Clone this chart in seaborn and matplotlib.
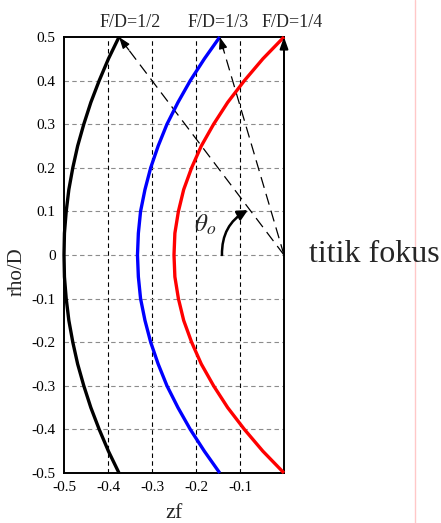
import matplotlib
matplotlib.use('Agg')
import matplotlib.pyplot as plt
from matplotlib.lines import Line2D
import matplotlib.transforms as mtransforms
import seaborn as sns
import pandas as pd

# ---------------- data ----------------
rho = [-0.5, -0.45, -0.4, -0.35, -0.3, -0.25, -0.2, -0.15, -0.1, -0.05, 0.0,
       0.05, 0.1, 0.15, 0.2, 0.25, 0.3, 0.35, 0.4, 0.45, 0.5]
zf_half = [-0.375, -0.399, -0.42, -0.439, -0.455, -0.469, -0.48, -0.489, -0.495, -0.499, -0.5,
           -0.499, -0.495, -0.489, -0.48, -0.469, -0.455, -0.439, -0.42, -0.399, -0.375]
zf_third = [-0.146, -0.181, -0.213, -0.241, -0.266, -0.286, -0.303, -0.316, -0.326, -0.331, -0.333,
            -0.331, -0.326, -0.316, -0.303, -0.286, -0.266, -0.241, -0.213, -0.181, -0.146]
zf_quarter = [0.0, -0.048, -0.09, -0.128, -0.16, -0.188, -0.21, -0.228, -0.24, -0.248, -0.25,
              -0.248, -0.24, -0.228, -0.21, -0.188, -0.16, -0.128, -0.09, -0.048, 0.0]
curve_names = ['F/D=1/2', 'F/D=1/3', 'F/D=1/4']
curve_colors = ['#000000', '#0000ff', '#ff0000']
title_x = [-0.35, -0.149, 0.018]
focus = (0.0, 0.0)
theta_label = r'$\theta_o$'
focus_label = 'titik fokus'
xticks = [-0.5, -0.4, -0.3, -0.2, -0.1]
xtick_labels = ['-0.5', '-0.4', '-0.3', '-0.2', '-0.1']
yticks = [-0.5, -0.4, -0.3, -0.2, -0.1, 0.0, 0.1, 0.2, 0.3, 0.4, 0.5]
ytick_labels = ['-0.5', '-0.4', '-0.3', '-0.2', '-0.1', '0', '0.1', '0.2', '0.3', '0.4', '0.5']

# ---------------- style ----------------
sns.set_style('white')
plt.rcParams['font.family'] = ['Liberation Serif', 'DejaVu Serif']
plt.rcParams['mathtext.fontset'] = 'stix'

fig = plt.figure(figsize=(4.41, 5.23), dpi=100)
ax = fig.add_axes([64 / 441, 1 - 473 / 523, 220 / 441, 436 / 523])

df = pd.DataFrame({
    'zf': zf_half + zf_third + zf_quarter,
    'rho': rho * 3,
    'curve': [curve_names[0]] * len(rho) + [curve_names[1]] * len(rho) + [curve_names[2]] * len(rho),
})
sns.lineplot(data=df, x='zf', y='rho', hue='curve', palette=curve_colors,
             sort=False, estimator=None, legend=False, linewidth=2.4, ax=ax, zorder=5)
for ln in ax.lines:
    ln.set_clip_on(False)
    ln.set_solid_capstyle('butt')
    ln.set_solid_joinstyle('round')

ax.set_xlim(-0.5, 0.0)
ax.set_ylim(-0.5, 0.5)

# grid
for x in xticks[1:]:
    ax.axvline(x, color='black', ls=(0, (4, 3)), lw=0.8, zorder=1)
for y in yticks[1:-1]:
    ax.axhline(y, color='#8c8c8c', ls=(0, (4, 3)), lw=0.8, zorder=1)

# rays from focus to the rim
curves_z = [zf_half, zf_third, zf_quarter]
for i, zz in enumerate(curves_z):
    top = (zz[-1], rho[-1])
    if i < 2:
        ax.plot([focus[0], top[0]], [focus[1], top[1]], color='black',
                ls=(0, (9, 5)), lw=0.9, zorder=3)
        start = (top[0] + 0.06 * (focus[0] - top[0]), top[1] + 0.06 * (focus[1] - top[1]))
        ax.annotate('', xy=top, xytext=start,
                    arrowprops=dict(arrowstyle='-|>,head_length=0.7,head_width=0.25',
                                    color='black', lw=0.9, shrinkA=0, shrinkB=0), zorder=6)
    else:
        ax.annotate('', xy=top, xytext=focus, annotation_clip=False,
                    arrowprops=dict(arrowstyle='-|>,head_length=0.7,head_width=0.25',
                                    color='black', lw=1.4, shrinkA=0, shrinkB=0), zorder=6)

# titles above each curve
trans = mtransforms.blended_transform_factory(ax.transData, ax.transAxes)
for name, tx in zip(curve_names, title_x):
    ax.text(tx, 1 + 10 / 436, name, transform=trans, ha='center', va='baseline',
            fontsize=13, clip_on=False)

# theta annotation
ax.text(-0.18, 0.069, theta_label, fontsize=18, ha='center', va='center', zorder=7)
ax.annotate('', xy=(-0.082, 0.103), xytext=(-0.141, 0.0),
            arrowprops=dict(arrowstyle='-|>,head_length=0.6,head_width=0.3',
                            connectionstyle='arc3,rad=-0.3', color='black', lw=1.8,
                            shrinkA=0, shrinkB=0), zorder=7)

# ticks and labels
ax.set_xticks(xticks)
ax.set_xticklabels(xtick_labels)
ax.set_yticks(yticks)
ax.set_yticklabels(ytick_labels)
ax.tick_params(direction='in', length=4, width=0.8, labelsize=11, pad=6, colors='black')
for s in ax.spines.values():
    s.set_color('black')
    s.set_linewidth(1.4)

ax.set_xlabel('zf', fontsize=16)
ax.xaxis.label.set_va('center')
ax.xaxis.set_label_coords(0.5, (473 - 514) / 436)
ax.set_ylabel('rho/D', fontsize=15)
ax.yaxis.label.set_va('center')
ax.yaxis.set_label_coords((17 - 64) / 220, (473 - 272) / 436)

fig.text(309 / 441, 1 - 254 / 523, focus_label, fontsize=23, ha='left', va='center')
fig.add_artist(Line2D([415 / 441, 415 / 441], [0, 1], color='#ffc8c8', lw=1,
                      transform=fig.transFigure))

fig.savefig('out.png', dpi=100)
